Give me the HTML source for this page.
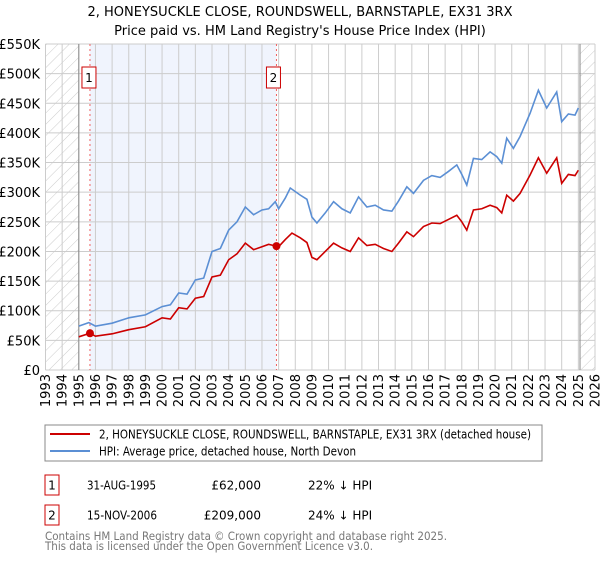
<!DOCTYPE html>
<html><head><meta charset="utf-8"><style>
body{margin:0;background:#fff;font-family:"DejaVu Sans","Liberation Sans",sans-serif;}
svg text{font-family:"DejaVu Sans","Liberation Sans",sans-serif;}
</style></head><body>
<svg id="c" width="600" height="560" xmlns="http://www.w3.org/2000/svg">
<defs><pattern id="hatch" width="8" height="8" patternUnits="userSpaceOnUse" patternTransform="rotate(45)"><line x1="0" y1="0" x2="0" y2="8" stroke="#ccc" stroke-width="1"/></pattern></defs>
<text x="300" y="16" text-anchor="middle" font-size="13">2, HONEYSUCKLE CLOSE, ROUNDSWELL, BARNSTAPLE, EX31 3RX</text>
<text x="300" y="35" text-anchor="middle" font-size="13">Price paid vs. HM Land Registry's House Price Index (HPI)</text>
<g id="plot"></g>
<rect x="45" y="425" width="497" height="36" fill="none" stroke="#888"/>
<line x1="50" y1="434" x2="90" y2="434" stroke="#cc0000" stroke-width="2"/>
<text x="99" y="438.5" font-size="12" textLength="432" lengthAdjust="spacingAndGlyphs">2, HONEYSUCKLE CLOSE, ROUNDSWELL, BARNSTAPLE, EX31 3RX (detached house)</text>
<line x1="50" y1="451" x2="90" y2="451" stroke="#5b8fd4" stroke-width="2"/>
<text x="99" y="455.5" font-size="12" textLength="257" lengthAdjust="spacingAndGlyphs">HPI: Average price, detached house, North Devon</text>
<rect x="45" y="475" width="14" height="20" fill="#fff" stroke="#cc0000"/>
<text x="52" y="489.5" font-size="12" text-anchor="middle">1</text>
<text x="87" y="489.5" font-size="12" textLength="69" lengthAdjust="spacingAndGlyphs">31-AUG-1995</text>
<text x="261" y="489.5" font-size="12" text-anchor="end">£62,000</text>
<text x="308" y="489.5" font-size="12">22% ↓ HPI</text>
<rect x="45" y="505" width="14" height="20" fill="#fff" stroke="#cc0000"/>
<text x="52" y="519.5" font-size="12" text-anchor="middle">2</text>
<text x="87" y="519.5" font-size="12" textLength="70" lengthAdjust="spacingAndGlyphs">15-NOV-2006</text>
<text x="261" y="519.5" font-size="12" text-anchor="end">£209,000</text>
<text x="308" y="519.5" font-size="12">24% ↓ HPI</text>
<text x="45" y="540" font-size="11.5" fill="#777" textLength="402" lengthAdjust="spacingAndGlyphs">Contains HM Land Registry data © Crown copyright and database right 2025.</text>
<text x="45" y="550" font-size="11.5" fill="#777" textLength="328" lengthAdjust="spacingAndGlyphs">This data is licensed under the Open Government Licence v3.0.</text>
</svg>
<script>
const hpiYears=[1995.0,1995.6,1996.0,1997.0,1998.0,1999.0,2000.0,2000.5,2001.0,2001.5,2002.0,2002.5,2003.0,2003.5,2004.0,2004.5,2005.0,2005.5,2006.0,2006.4,2006.8,2007.0,2007.4,2007.7,2008.3,2008.7,2009.0,2009.3,2009.8,2010.3,2010.8,2011.3,2011.8,2012.3,2012.8,2013.3,2013.8,2014.2,2014.7,2015.1,2015.7,2016.2,2016.7,2017.2,2017.7,2018.0,2018.3,2018.7,2019.2,2019.7,2020.1,2020.4,2020.7,2021.1,2021.5,2022.1,2022.6,2023.1,2023.7,2024.0,2024.4,2024.8,2025.0];
const hpiValues=[74,80,74,79,88,93,107,110,130,128,152,155,200,205,236,250,275,262,270,272,284,272,290,307,295,288,258,248,265,284,272,265,292,275,278,270,268,285,309,298,320,328,325,335,346,330,312,357,355,368,360,349,391,374,394,433,472,442,469,419,432,430,442];
const priceYears=[1995.0,1995.67,1996.0,1997.0,1998.0,1999.0,2000.0,2000.5,2001.0,2001.5,2002.0,2002.5,2003.0,2003.5,2004.0,2004.5,2005.0,2005.5,2006.0,2006.4,2006.87,2007.0,2007.4,2007.8,2008.3,2008.7,2009.0,2009.3,2009.8,2010.3,2010.8,2011.3,2011.8,2012.3,2012.8,2013.3,2013.8,2014.2,2014.7,2015.1,2015.7,2016.2,2016.7,2017.2,2017.7,2018.0,2018.3,2018.7,2019.2,2019.7,2020.1,2020.4,2020.7,2021.1,2021.5,2022.1,2022.6,2023.1,2023.7,2024.0,2024.4,2024.8,2025.0];
const priceValues=[56,62,57,61,68,73,88,86,105,103,121,124,157,160,186,196,214,203,208,212,209,208,220,231,223,215,190,186,200,214,206,200,223,210,212,205,200,214,233,225,242,248,247,254,261,250,236,270,272,278,274,265,295,285,298,329,358,332,358,315,330,328,337];
const saleYears=[1995.67,2006.87];
const saleValues=[62,209];
const yTicks=[0,50,100,150,200,250,300,350,400,450,500,550];
const yLabels=["£0","£50K","£100K","£150K","£200K","£250K","£300K","£350K","£400K","£450K","£500K","£550K"];
const xStart=1993,xEnd=2026;
const X0=45.5,X1=595,Y0=370,Y1=44;
const xs=y=>X0+(y-xStart)/(xEnd-xStart)*(X1-X0);
const ys=v=>Y0-v/550*(Y0-Y1);
const NS="http://www.w3.org/2000/svg";
const g=document.getElementById('plot');
function mk(t,a){const e=document.createElementNS(NS,t);for(const k in a)e.setAttribute(k,a[k]);g.appendChild(e);return e;}
let e;
e=mk('rect',{x:xs(saleYears[0]),y:Y1,width:xs(saleYears[1])-xs(saleYears[0]),height:Y0-Y1,fill:'#f0f4fd'});


e=mk('rect',{x:X0,y:Y1,width:xs(1995)-X0,height:Y0-Y1,fill:'url(#hatch)'});


e=mk('rect',{x:xs(2025.1),y:Y1,width:X1-xs(2025.1),height:Y0-Y1,fill:'url(#hatch)'});


yTicks.forEach((v,i)=>{
 e=mk('line',{x1:X0,x2:X1,y1:ys(v),y2:ys(v),stroke:'#ccc','stroke-width':1});
 
 
 e=mk('text',{x:40,y:ys(v)+5,'text-anchor':'end','font-size':13});
 e.textContent=yLabels[i];
 
 
});
for(let yr=xStart;yr<=xEnd;yr++){
 e=mk('line',{x1:xs(yr),x2:xs(yr),y1:Y1,y2:Y0,stroke:'#ccc','stroke-width':1});
 
 
 const tx=xs(yr)+4.5,ty=374;
 e=mk('text',{x:tx,y:ty,'text-anchor':'end','font-size':13,transform:`rotate(-90 ${tx} ${ty})`});
 e.textContent=yr;
 
 
}
e=mk('line',{x1:xs(1995),x2:xs(1995),y1:Y1,y2:Y0,stroke:'#888'});


e=mk('line',{x1:xs(2025.1),x2:xs(2025.1),y1:Y1,y2:Y0,stroke:'#888'});


saleYears.forEach((yr,i)=>{
 e=mk('line',{x1:xs(yr),x2:xs(yr),y1:Y1,y2:Y0,stroke:'#f06060','stroke-dasharray':'2,3'});
 
 
});
e=mk('polyline',{points:hpiYears.map((y,i)=>xs(y)+','+ys(hpiValues[i])).join(' '),fill:'none',stroke:'#5b8fd4','stroke-width':1.6});


e=mk('polyline',{points:priceYears.map((y,i)=>xs(y)+','+ys(priceValues[i])).join(' '),fill:'none',stroke:'#cc0000','stroke-width':1.6});


saleYears.forEach((yr,i)=>{
 e=mk('circle',{cx:xs(yr),cy:ys(saleValues[i]),r:4,fill:'#cc0000'});
 
 
 const bx=xs(yr)-(i==0?8:10);
 e=mk('rect',{x:bx,y:67,width:14,height:21,fill:'#fff',stroke:'#cc0000'});
 
 
 e=mk('text',{x:bx+7,y:82,'text-anchor':'middle','font-size':12});
 e.textContent=String(i+1);
 
 
});
</script>
</body></html>
